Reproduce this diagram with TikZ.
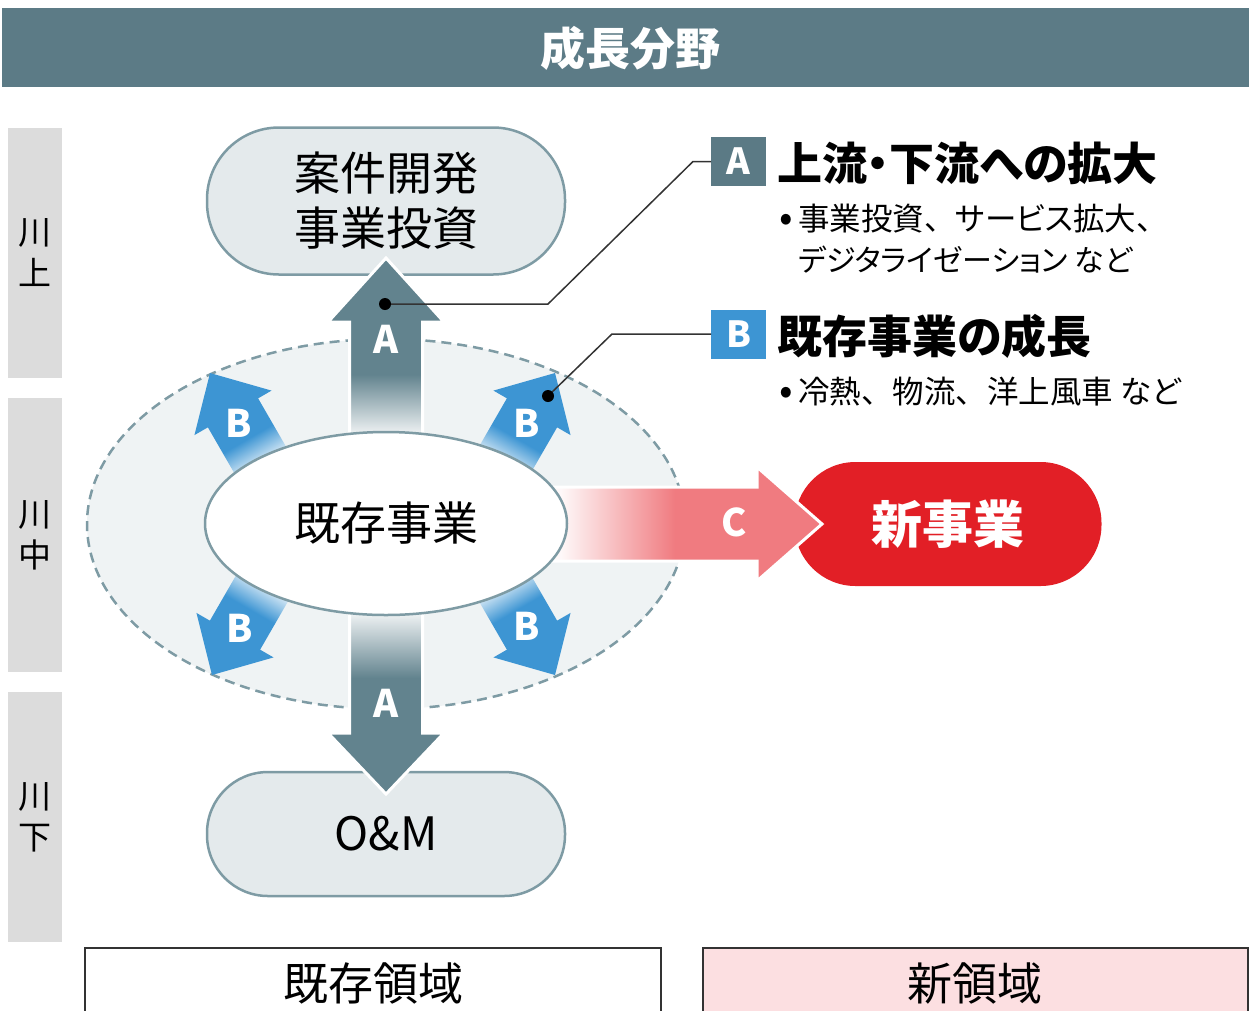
\documentclass[tikz,border=0pt]{standalone}
\usepackage{fontspec}
\newfontfamily\jp{Noto Sans CJK JP}
\newfontfamily\jpp{Noto Sans CJK JP}[RawFeature=+palt]
\usetikzlibrary{shapes.geometric}
\definecolor{hdr}{HTML}{5C7B86}
\definecolor{agray}{HTML}{62838E}
\definecolor{keygray}{HTML}{5B7A85}
\definecolor{bblue}{HTML}{3D95D3}
\definecolor{zonefill}{HTML}{EFF3F4}
\definecolor{edge}{HTML}{7E9BA4}
\definecolor{boxfill}{HTML}{E4EAEC}
\definecolor{newred}{HTML}{E21F26}
\definecolor{cpink}{HTML}{F07B80}
\definecolor{pinkbox}{HTML}{FCDFE1}
\definecolor{sidegray}{HTML}{DCDCDC}
\definecolor{darkline}{HTML}{333333}
\pgfdeclareverticalshading{bfade}{100bp}{color(0bp)=(white); color(27bp)=(bblue!20); color(40bp)=(bblue); color(100bp)=(bblue)}
\pgfdeclareverticalshading{aupfade}{100bp}{color(0bp)=(agray!10); color(27bp)=(agray!12); color(43bp)=(agray); color(100bp)=(agray)}
\pgfdeclareverticalshading{adownfade}{100bp}{color(0bp)=(agray); color(56bp)=(agray); color(73bp)=(agray!12); color(100bp)=(agray!10)}
\pgfdeclarehorizontalshading{cfade}{100bp}{color(0bp)=(white); color(27bp)=(cpink!5); color(48bp)=(cpink); color(100bp)=(cpink)}
\newcommand{\bulletmark}{\makebox[19pt][l]{\fontsize{40}{30}\selectfont\raisebox{-1pt}{•}}}
\begin{document}
\begin{tikzpicture}[x=1pt,y=-1pt,
  every node/.style={font=\jp, inner sep=0pt, outer sep=0pt},
  sidebar/.style={fill=sidegray, minimum width=54pt, align=center, font=\jp\fontsize{33}{41}\selectfont},
  procbox/.style={draw=edge, fill=boxfill, line width=2.5pt, minimum width=358pt, align=center, font=\jp\fontsize{46}{55}\selectfont},
  arrowlbl/.style={text=white, font=\jp\bfseries\fontsize{38}{38}\selectfont},
  keybox/.style={minimum width=55pt, minimum height=49pt, text=white, font=\jp\bfseries\fontsize{36}{36}\selectfont},
  keytitle/.style={anchor=west, font=\jpp\bfseries\fontsize{45}{45}\selectfont},
  bullettext/.style={anchor=west, font=\jp\fontsize{31.5}{31.5}\selectfont},
  conn/.style={draw=darkline, line width=1.5pt},
  fadeedge/.style={draw=white, line width=3pt, line join=miter},
  areabox/.style={draw=darkline, line width=1.5pt, anchor=north west, minimum height=80pt},
  areatext/.style={font=\jp\fontsize{45}{45}\selectfont}
]
\useasboundingbox (0,0) rectangle (1249,1010);
% header
\node[fill=hdr, minimum width=1247pt, minimum height=79pt, anchor=north west] (hdr) at (2,8) {};
\node[text=white, font=\jp\bfseries\fontsize{45}{45}\selectfont] (hdrtxt) at (630,48) {成長分野};
% side bars
\node[sidebar, minimum height=250pt] (upper) at (35,253) {川\\上};
\node[sidebar, minimum height=274pt] (middle) at (35,535) {川\\中};
\node[sidebar, minimum height=250pt] (lower) at (35,817) {川\\下};
% zone
\node[ellipse, draw=edge, fill=zonefill, line width=2.5pt, dash pattern=on 10pt off 6pt, minimum width=598pt, minimum height=370pt] (zone) at (386,524) {};
% boxes
\node[procbox, minimum height=147pt, rounded corners=72pt] (dev) at (386,201) {案件開発\\事業投資};
\node[procbox, minimum height=124pt, rounded corners=61pt] (om) at (386,834) {O\&M};
\node[fill=newred, minimum width=307pt, minimum height=124pt, rounded corners=61pt, text=white, font=\jp\bfseries\fontsize{51}{51}\selectfont] (newbiz) at (948,524) {新事業};
% B arrows
\foreach \tx/\ty/\ang in {210/373/30, 555/373/-30, 212/675/150, 555/675/-150}{
  \begin{scope}[transform canvas={shift={(\tx,\ty)},rotate=\ang}]
    \path[shade, shading=bfade] (0,0) -- (44.5,46) -- (29,46) -- (29,108) -- (-29,108) -- (-29,46) -- (-44.5,46) -- cycle;
  \end{scope}
}
% A arrows
\path[fadeedge, shade, shading=aupfade] (349.5,440) -- (349.5,322) -- (328,322) -- (386,258) -- (444,322) -- (422.5,322) -- (422.5,440) -- cycle;
\path[fadeedge, shade, shading=adownfade] (349.5,607) -- (349.5,733) -- (328,733) -- (386,794) -- (444,733) -- (422.5,733) -- (422.5,607) -- cycle;
% C arrow
\path[fadeedge, shade, shading=cfade] (550,487) -- (757,487) -- (757,467) -- (822,524) -- (757,581) -- (757,561) -- (550,561) -- cycle;
% core
\node[ellipse, draw=edge, fill=white, line width=2.5pt, minimum width=362pt, minimum height=183pt, font=\jp\fontsize{46}{46}\selectfont] (core) at (386,523.5) {既存事業};
% arrow labels
\node[arrowlbl] (lA1) at (386,339) {A};
\node[arrowlbl] (lA2) at (386,703) {A};
\node[arrowlbl] (lB1) at (239,423) {B};
\node[arrowlbl] (lB2) at (527,423) {B};
\node[arrowlbl] (lB3) at (240,628) {B};
\node[arrowlbl] (lB4) at (527,626) {B};
\node[arrowlbl] (lC) at (734,522) {C};
% legend
\node[keybox, fill=keygray] (keyA) at (738.5,161.5) {A};
\node[keytitle] (ttlA) at (777,163) {上流・下流への拡大};
\node[bullettext] (bA1) at (779,219) {\bulletmark 事業投資、{\jpp サービス}拡大、};
\node[bullettext, font=\jpp\fontsize{30}{30}\selectfont] (bA2) at (798,260) {デジタライゼーション など};
\node[keybox, fill=bblue] (keyB) at (738.5,334) {B};
\node[keytitle] (ttlB) at (777,336) {既存事業の成長};
\node[bullettext] (bB1) at (779,392) {\bulletmark 冷熱、物流、洋上風車 など};
% connectors
\coordinate (dotA) at (385,304);
\coordinate (kA1) at (548,304);
\coordinate (kA2) at (693,161.5);
\coordinate (dotB) at (548,396);
\coordinate (kB1) at (612,334);
\draw[conn] (dotA) -- (kA1) -- (kA2) -- (keyA.west);
\draw[conn] (dotB) -- (kB1) -- (keyB.west);
\fill[black] (dotA) circle[radius=6pt];
\fill[black] (dotB) circle[radius=6pt];
% bottom areas
\node[areabox, fill=white, minimum width=576pt] (existbox) at (85,948) {};
\node[areatext] (existtxt) at (373,983) {既存領域};
\node[areabox, fill=pinkbox, minimum width=545pt] (newbox) at (703,948) {};
\node[areatext] (newtxt) at (975,983) {新領域};
\end{tikzpicture}
\end{document}
